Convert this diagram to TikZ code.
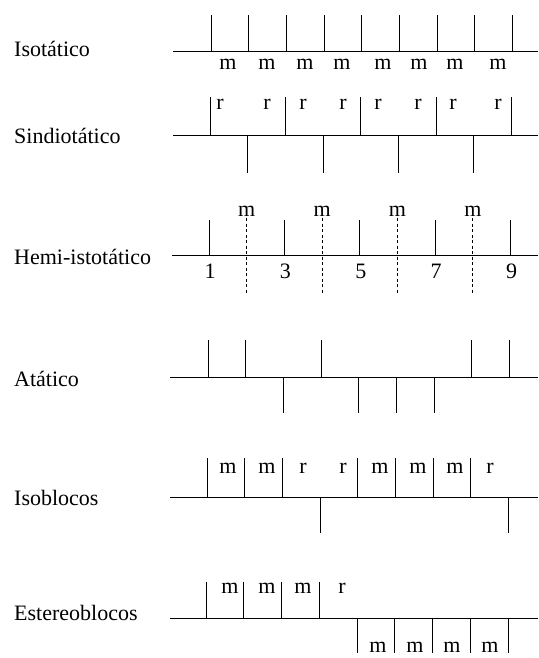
\documentclass[tikz,border=0pt]{standalone}
\usepackage{fontspec}
\setmainfont{Liberation Serif}
\usetikzlibrary{positioning}

\begin{document}
\begin{tikzpicture}[x=1pt,y=-1pt,
  chainline/.style={line width=1pt},
  bond/.style={line width=0.9pt},
  mirror/.style={line width=0.9pt,dash pattern=on 3pt off 2.5pt},
  rowname/.style={anchor=base west,inner sep=0pt,font=\fontsize{22}{24}\selectfont},
  dyad/.style={anchor=base,inner sep=0pt,font=\fontsize{22}{24}\selectfont}]
\useasboundingbox (0,0) rectangle (538,658);

% Isotatico
\node[rowname] (iso) at (14,57) {Isotático};
\draw[chainline] (173,52) -- (538,52);
\foreach \i in {0,...,8} \draw[bond] ({211+37.7*\i},52) -- ++(0,-37);
\foreach \x [count=\k] in {228,267,305,342,383,419,455,498}
  \node[dyad] (iso-m\k) at (\x,70) {m};

% Sindiotatico
\node[rowname] (sin) at (14,143) {Sindiotático};
\draw[chainline] (173,135) -- (538,135);
\foreach \i in {0,2,...,8} \draw[bond] ({210+37.7*\i},135) -- ++(0,-38);
\foreach \i in {1,3,...,7} \draw[bond] ({210+37.7*\i},135) -- ++(0,38);
\foreach \x [count=\k] in {220,267,303,343,378,418,453,498}
  \node[dyad] (sin-r\k) at (\x,110) {r};

% Hemi-istotatico
\node[rowname] (hemi) at (14,264) {Hemi-istotático};
\draw[chainline] (172,255) -- (538,255);
\foreach \i [evaluate=\i as \n using int(\i+1)] in {0,2,...,8} {
  \draw[bond] ({209+37.7*\i},255) -- ++(0,-35);
  \node[dyad] (hemi-n\n) at ({210+37.7*\i},278) {\n};
}
\foreach \i [count=\k] in {1,3,...,7} {
  \draw[mirror] ({209+37.7*\i},218) -- ++(0,75);
  \node[dyad] (hemi-m\k) at ({209+37.7*\i},216) {m};
}

% Atatico
\node[rowname] (ata) at (14,386) {Atático};
\draw[chainline] (170,377) -- (538,377);
\foreach \i in {0,1,3,7,8} \draw[bond] ({208+37.7*\i},377) -- ++(0,-37);
\foreach \i in {2,4,5,6} \draw[bond] ({208+37.7*\i},377) -- ++(0,36);

% Isoblocos
\node[rowname] (isob) at (14,505) {Isoblocos};
\draw[chainline] (170,497) -- (538,497);
\foreach \i in {0,1,2,4,5,6,7} \draw[bond] ({207+37.7*\i},497) -- ++(0,-39);
\foreach \i in {3,8} \draw[bond] ({207+37.7*\i},497) -- ++(0,36);
\foreach \x/\t [count=\k] in {228/m,267/m,303/r,343/r,380/m,418/m,455/m,490/r}
  \node[dyad] (isob-\k) at (\x,473) {\t};

% Estereoblocos
\node[rowname] (est) at (14,620) {Estereoblocos};
\draw[chainline] (170,618) -- (538,618);
\foreach \i in {0,...,3} \draw[bond] ({206+37.75*\i},618) -- ++(0,-36);
\foreach \i in {4,...,8} \draw[bond] ({206+37.75*\i},618) -- ++(0,35);
\foreach \x/\t [count=\k] in {230/m,267/m,303/m,342/r}
  \node[dyad] (est-a\k) at (\x,593) {\t};
\foreach \x [count=\k] in {378,415,452,490}
  \node[dyad] (est-b\k) at (\x,652) {m};
\end{tikzpicture}
\end{document}
